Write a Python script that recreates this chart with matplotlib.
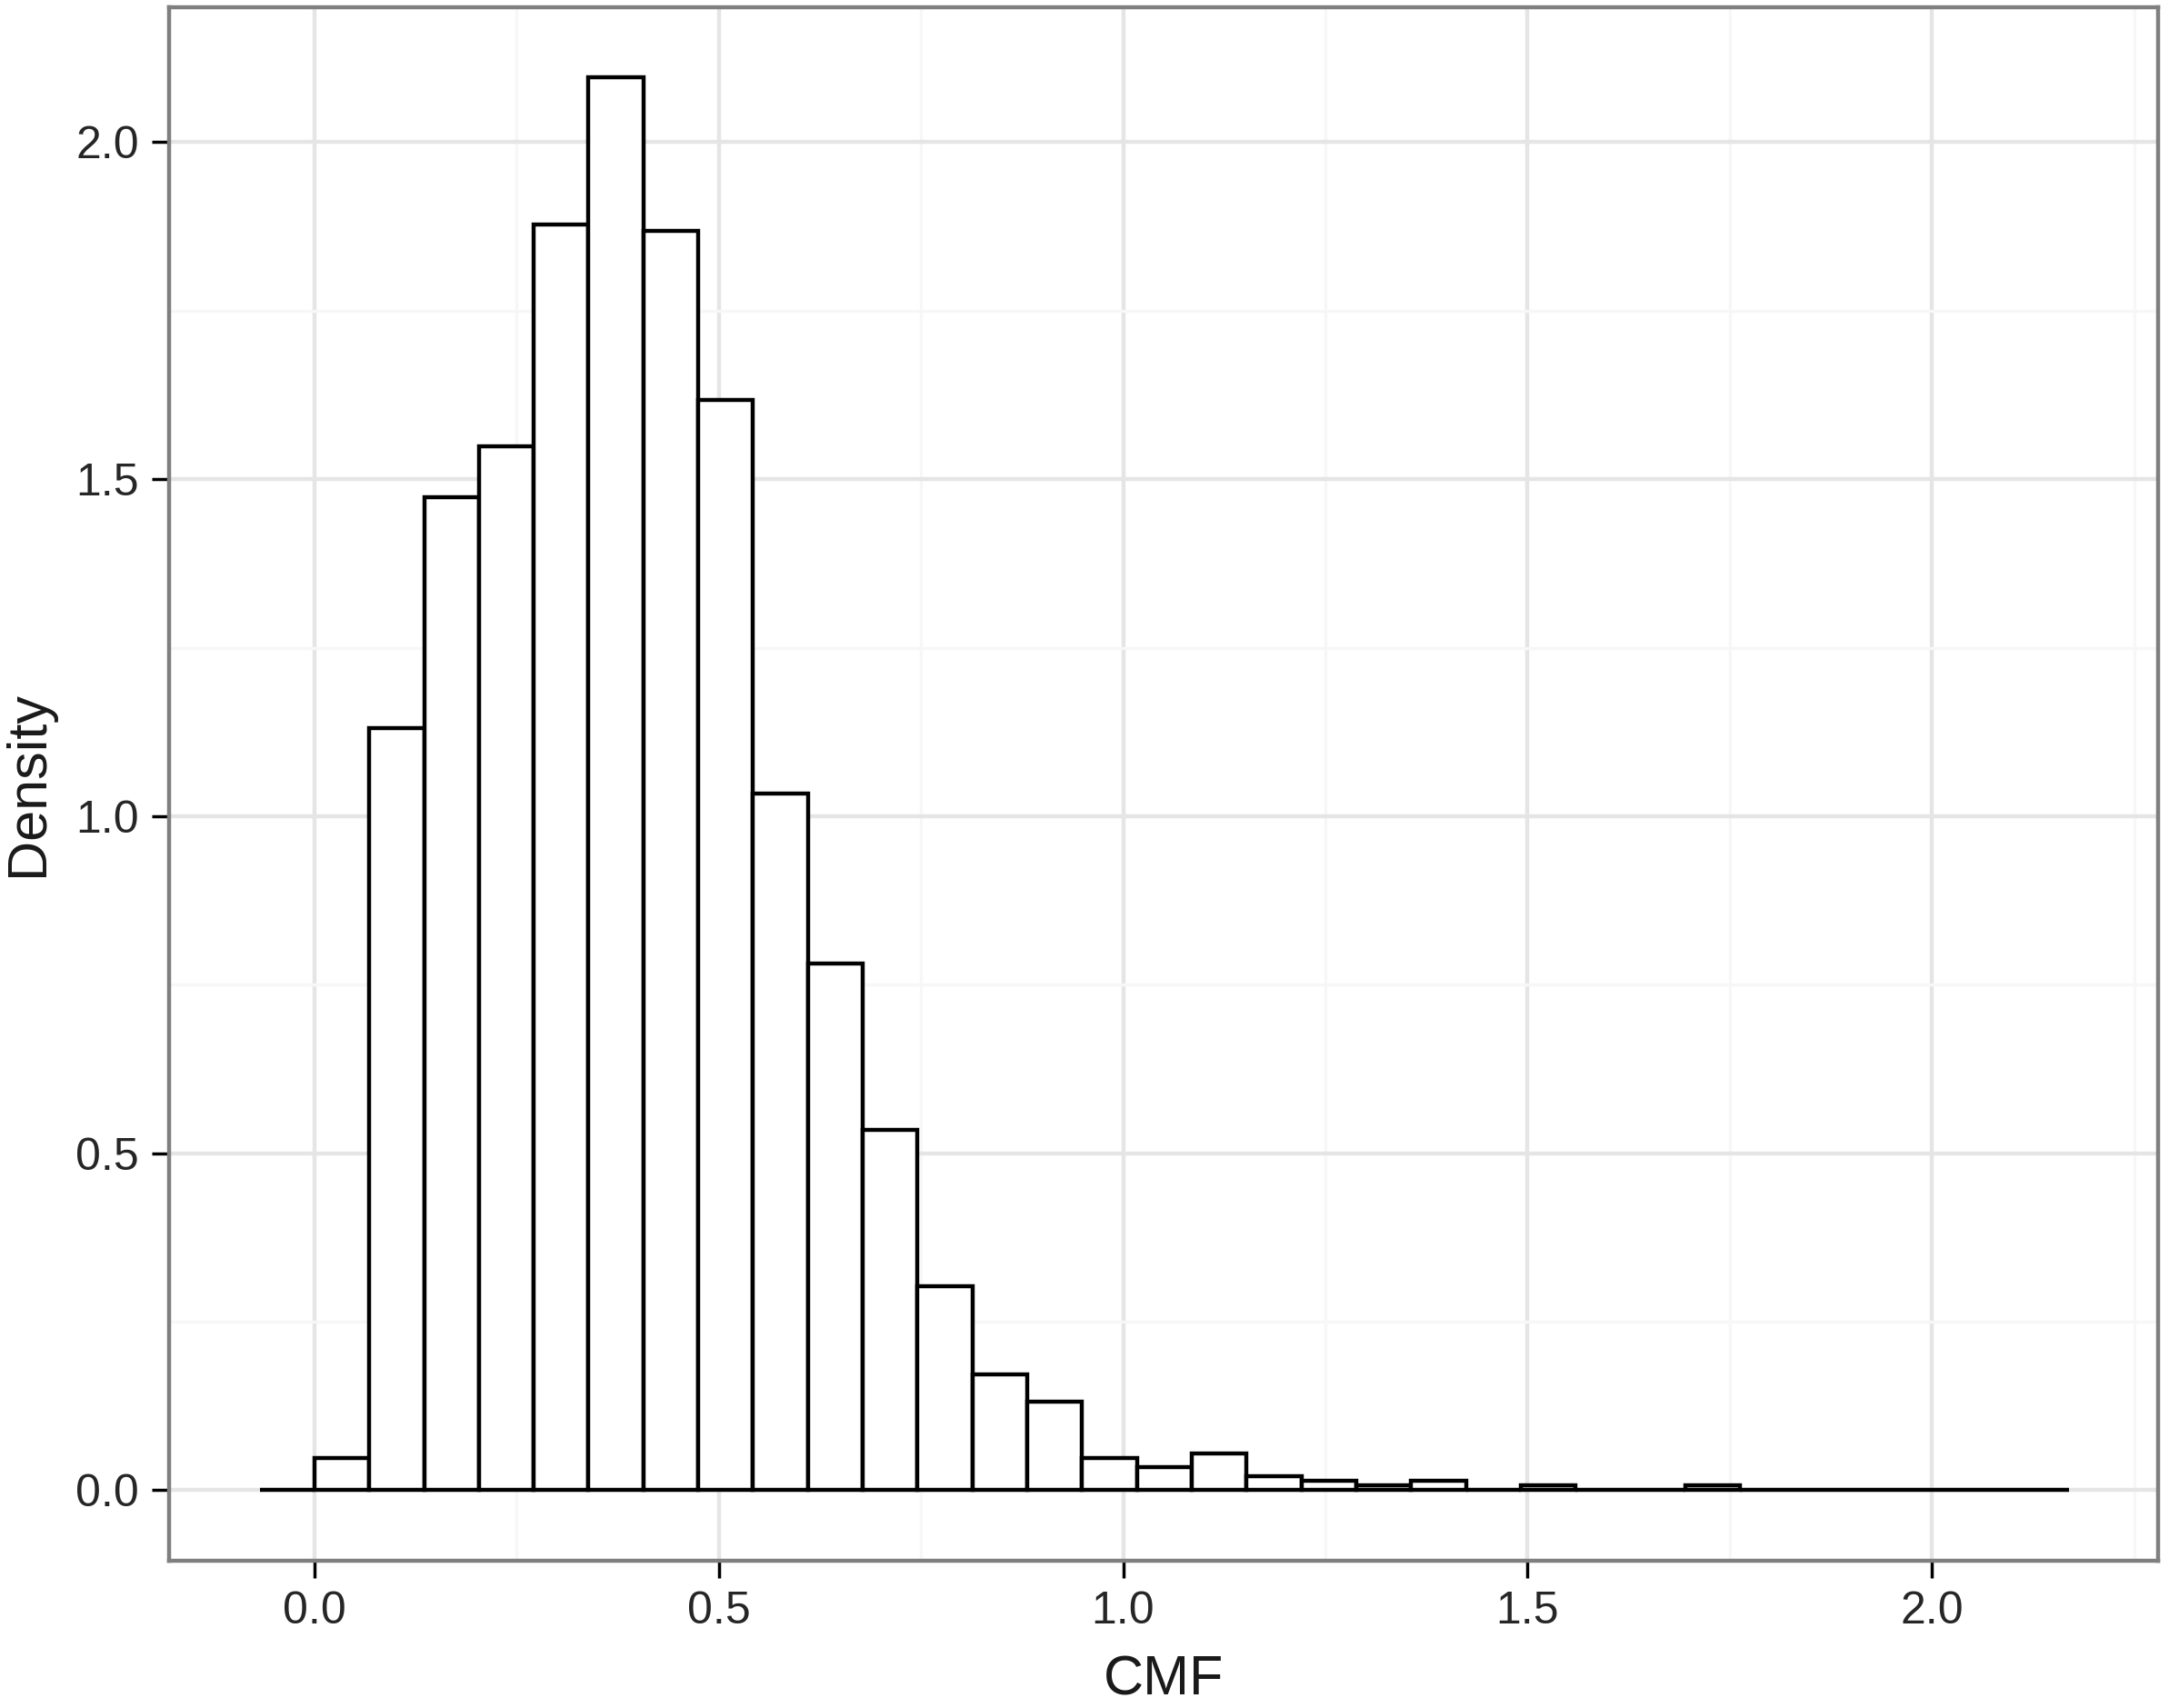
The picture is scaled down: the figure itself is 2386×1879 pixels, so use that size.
import numpy as np
import matplotlib
matplotlib.use("Agg")
import matplotlib.pyplot as plt
from matplotlib.ticker import MultipleLocator

plt.rcParams["font.family"] = ["Liberation Sans", "DejaVu Sans"]

# histogram (density per bin)
bin_start = -0.0678
bin_width = 0.0678
density = [
    0.0, 0.048, 1.131, 1.473, 1.549, 1.878, 2.096, 1.869, 1.617, 1.034,
    0.782, 0.534, 0.302, 0.172, 0.131, 0.048, 0.034, 0.055, 0.021, 0.014,
    0.007, 0.014, 0.0, 0.007, 0.0, 0.0, 0.007, 0.0, 0.0, 0.0,
    0.0, 0.0, 0.0,
]
x_ticks = [0.0, 0.5, 1.0, 1.5, 2.0]
y_ticks = [0.0, 0.5, 1.0, 1.5, 2.0]

W, H, DPI = 2386, 1879, 100
fig = plt.figure(figsize=(W / DPI, H / DPI), dpi=DPI)
ax = fig.add_axes([186 / W, 1 - 1717 / H, (2374 - 186) / W, (1717 - 7.6) / H])

lefts = bin_start + bin_width * np.arange(len(density))
ax.bar(lefts, density, width=bin_width, align="edge",
       facecolor="white", edgecolor="black", linewidth=3.2, zorder=3)

ax.set_xlim(-0.1797, 2.2797)
ax.set_ylim(-0.1048, 2.2008)

ax.set_xticks(x_ticks)
ax.set_yticks(y_ticks)
ax.set_xticklabels([f"{t:.1f}" for t in x_ticks])
ax.set_yticklabels([f"{t:.1f}" for t in y_ticks])
ax.xaxis.set_minor_locator(MultipleLocator(0.25))
ax.yaxis.set_minor_locator(MultipleLocator(0.25))

ax.grid(True, which="major", color="#E5E5E5", linewidth=3.2, zorder=0)
ax.grid(True, which="minor", color="#F7F7F7", linewidth=2.4, zorder=0)
ax.set_axisbelow(True)

ax.tick_params(which="major", direction="out", length=14, width=2.5,
               color="black", labelsize=36, labelcolor="#262626", pad=10)
ax.tick_params(which="minor", length=0)

for s in ax.spines.values():
    s.set_color("#7F7F7F")
    s.set_linewidth(3.2)

ax.set_xlabel("CMF", fontsize=44, color="#1A1A1A", va="baseline")
ax.xaxis.set_label_coords(0.5, -0.086)
ax.set_ylabel("Density", fontsize=44, color="#1A1A1A", va="center")
ax.yaxis.set_label_coords(-0.0706, 0.5)

fig.savefig("out.png", dpi=DPI)
plt.close(fig)
